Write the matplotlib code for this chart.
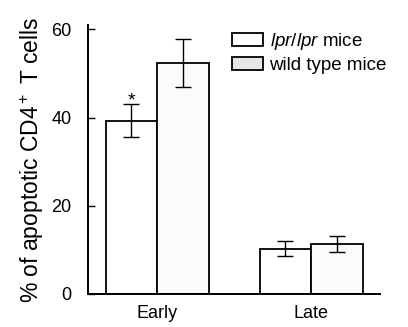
import matplotlib
matplotlib.use("Agg")
import matplotlib.pyplot as plt
import numpy as np

plt.rcParams['font.family'] = ['Liberation Sans', 'DejaVu Sans']
plt.rcParams['mathtext.fontset'] = 'custom'
plt.rcParams['mathtext.rm'] = 'Liberation Sans'
plt.rcParams['mathtext.it'] = 'Liberation Sans:italic'

groups = ["Early", "Late"]
series = ["lpr/lpr mice", "wild type mice"]
lpr_vals = [39.3, 10.3]
lpr_err = [3.8, 1.6]
wt_vals = [52.3, 11.4]
wt_err = [5.5, 1.8]

fig = plt.figure(figsize=(4.08, 3.27), dpi=100)
ax = fig.add_axes([0.216, 0.101, 0.716, 0.823])

x = np.arange(len(groups))
w = 0.335
ekw = dict(elinewidth=1.0, capthick=1.0, capsize=6, ecolor="black")
ax.bar(x - w / 2, lpr_vals, w, yerr=lpr_err, color="white", edgecolor="black",
       linewidth=1.3, error_kw=ekw, label=r"$\it{lpr/lpr}$ mice")
ax.bar(x + w / 2, wt_vals, w, yerr=wt_err, color="#fbfbfb", edgecolor="black",
       linewidth=1.3, error_kw=ekw, label="wild type mice")

# significance mark
ax.text(x[0] - w / 2, lpr_vals[0] + lpr_err[0] - 1.2, "*", ha="center",
        va="bottom", fontsize=14)

ax.set_xlim(-0.448, 1.448)
ax.set_ylim(0, 61)
ax.set_yticks([0, 20, 40, 60])
ax.set_xticks(x)
ax.set_xticklabels(groups, fontsize=13)
ax.tick_params(axis="x", length=0, pad=8)
ax.tick_params(axis="y", direction="in", length=5, width=1.0, labelsize=13, pad=12)
for s in ["top", "right"]:
    ax.spines[s].set_visible(False)
for s in ["left", "bottom"]:
    ax.spines[s].set_linewidth(1.4)

ax.set_ylabel(r"% of apoptotic CD4$^+$ T cells", fontsize=16.5, labelpad=4)

leg = ax.legend(frameon=False, fontsize=13.5, handlelength=1.65, handleheight=0.7,
                handletextpad=0.35, labelspacing=0.25, loc="upper left",
                borderpad=0, borderaxespad=0,
                bbox_to_anchor=(232 / 408, 1 - 31 / 327), bbox_transform=fig.transFigure)
leg.get_patches()[1].set_facecolor("#e6e6e6")

fig.savefig("out.png", dpi=100)
